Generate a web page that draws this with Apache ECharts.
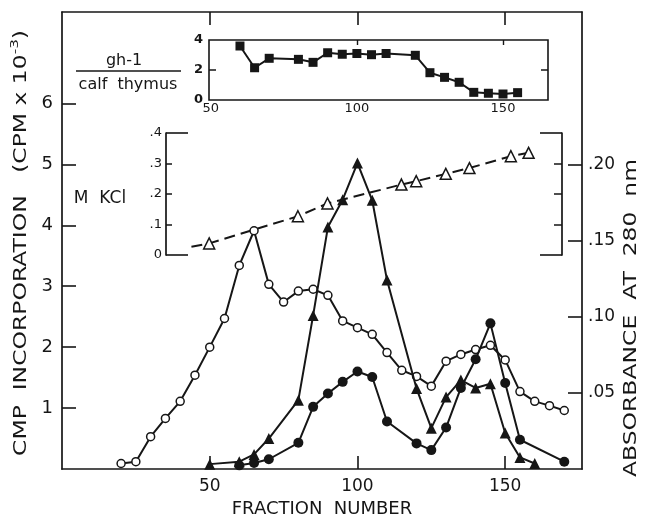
<!DOCTYPE html>
<html><head><meta charset="utf-8">
<script src="https://cdn.jsdelivr.net/npm/echarts@6/dist/echarts.min.js"></script>
<style>html,body{margin:0;padding:0;background:#fff}#c{width:649px;height:523px}</style>
</head><body><div id="c"></div><script>
// ---- data ----
const openFrac = [20,25,30,35,40,45,50,55,60,65,70,75,80,85,90,95,100,105,110,115,120,125,130,135,140,145,150,155,160,165,170];
const openVals = [0.09,0.12,0.53,0.83,1.11,1.54,2.0,2.47,3.34,3.91,3.03,2.74,2.92,2.95,2.85,2.43,2.32,2.21,1.91,1.62,1.52,1.36,1.77,1.88,1.96,2.03,1.79,1.27,1.11,1.04,0.96];
const triFrac = [50,60,65,70,80,85,90,95,100,105,110,120,125,130,135,140,145,150,155,160];
const triVals = [0.08,0.12,0.24,0.50,1.13,2.52,3.97,4.42,5.02,4.41,3.10,1.32,0.67,1.18,1.46,1.33,1.40,0.59,0.19,0.09];
const dotFrac = [60,65,70,80,85,90,95,100,105,110,120,125,130,135,140,145,150,155,170];
const dotVals = [0.06,0.10,0.16,0.43,1.02,1.24,1.43,1.60,1.51,0.78,0.42,0.31,0.68,1.33,1.80,2.39,1.41,0.48,0.12];
const kclFrac = [44,50,80,90,115,120,130,138,152,158];
const kclVals = [0.027,0.038,0.127,0.169,0.231,0.242,0.266,0.285,0.324,0.335];
const ratioFrac = [60,65,70,80,85,90,95,100,105,110,120,125,130,135,140,145,150,155];
const ratioVals = [3.6,2.15,2.78,2.71,2.51,3.15,3.05,3.1,3.02,3.1,2.98,1.82,1.51,1.18,0.51,0.45,0.40,0.49];
const xTicks = [50,100,150];
const cpmTicks = [1,2,3,4,5,6];
const absTicks = [0.05,0.10,0.15,0.20];
const kclTicks = [0.1,0.2,0.3];
const kclLabelVals = [0,0.1,0.2,0.3,0.4];
const ratioLabelVals = [0,2,4];

const ink = '#161616';
const F = 'DejaVu Sans';
const zip = (a,b) => a.map((v,i)=>[v,b[i]]);
const line = {onZero:false,lineStyle:{color:ink,width:1.7}};
const noLine = {show:false,onZero:false};
const chart = echarts.init(document.getElementById('c'), null, {renderer:'canvas'});

const kclData = zip(kclFrac,kclVals).map((p,i)=> i===0 ? {value:p, symbol:'none'} : p);

chart.setOption({
  animation:false,
  backgroundColor:'#fff',
  textStyle:{fontFamily:F,color:ink},
  grid:[
    {left:62,right:67,top:12,bottom:54},
    {left:209,right:101,top:40,bottom:423,show:true,borderColor:ink,borderWidth:1.6,backgroundColor:'#fff'},
    {left:166,right:87,top:133,bottom:268}
  ],
  xAxis:[
    {gridIndex:0,type:'value',position:'bottom',min:0,max:176,splitLine:{show:false},axisLine:line,
     axisTick:{inside:true,length:13,customValues:xTicks,lineStyle:{color:ink,width:1.6}},
     axisLabel:{customValues:xTicks,fontSize:17,color:ink,margin:9,fontFamily:F},
     name:'FRACTION  NUMBER',nameLocation:'middle',nameGap:31,
     nameTextStyle:{fontSize:18,color:ink,fontFamily:F}},
    {gridIndex:0,type:'value',position:'top',min:0,max:176,splitLine:{show:false},axisLine:line,
     axisTick:{inside:true,length:13,customValues:xTicks,lineStyle:{color:ink,width:1.6}},
     axisLabel:{show:false}},
    {gridIndex:1,type:'value',position:'bottom',min:49.4,max:165.4,splitLine:{show:false},axisLine:noLine,
     axisTick:{show:false},
     axisLabel:{customValues:xTicks,fontSize:13,color:ink,margin:2,fontFamily:F}},
    {gridIndex:1,type:'value',position:'top',min:49.4,max:165.4,splitLine:{show:false},axisLine:noLine,
     axisTick:{inside:true,length:5,customValues:[100,150],lineStyle:{color:ink,width:1.4}},
     axisLabel:{show:false}},
    {gridIndex:2,type:'value',min:35.4,max:169.3,show:false,axisLine:{onZero:false}}
  ],
  yAxis:[
    {gridIndex:0,type:'value',position:'left',min:0,max:7.5,splitLine:{show:false},axisLine:line,
     axisTick:{inside:true,length:14,customValues:cpmTicks,lineStyle:{color:ink,width:1.6}},
     axisLabel:{customValues:cpmTicks,fontSize:18,color:ink,margin:9,fontFamily:F}},
    {gridIndex:0,type:'value',position:'right',min:0,max:0.3,splitLine:{show:false},axisLine:line,
     axisTick:{inside:true,length:14,customValues:absTicks,lineStyle:{color:ink,width:1.6}},
     axisLabel:{customValues:absTicks,fontSize:17,color:ink,margin:6,fontFamily:F,
       formatter:v=>'.'+String(Math.round(v*100)).padStart(2,'0')}},
    {gridIndex:1,type:'value',position:'left',min:0,max:4,splitLine:{show:false},axisLine:noLine,
     axisTick:{inside:true,length:7,customValues:[2],lineStyle:{color:ink,width:1.5}},
     axisLabel:{customValues:ratioLabelVals,fontSize:13,color:ink,margin:6,fontFamily:F,fontWeight:'bold'}},
    {gridIndex:1,type:'value',position:'right',min:0,max:4,splitLine:{show:false},axisLine:noLine,
     axisTick:{inside:true,length:7,customValues:[2],lineStyle:{color:ink,width:1.5}},
     axisLabel:{show:false}},
    {gridIndex:2,type:'value',position:'left',min:0,max:0.4,splitLine:{show:false},axisLine:line,
     axisTick:{inside:true,length:6,customValues:kclTicks,lineStyle:{color:ink,width:1.5}},
     axisLabel:{customValues:kclLabelVals,fontSize:13,color:ink,margin:4,fontFamily:F,
       formatter:v=> v===0 ? '0' : '.'+Math.round(v*10)}},
    {gridIndex:2,type:'value',position:'left',min:0,max:0.4,splitLine:{show:false},axisLine:noLine,
     axisTick:{inside:true,length:22,customValues:[0,0.4],lineStyle:{color:ink,width:1.6}},
     axisLabel:{show:false}},
    {gridIndex:2,type:'value',position:'right',min:0,max:0.4,splitLine:{show:false},axisLine:line,
     axisTick:{inside:true,length:8,customValues:kclTicks,lineStyle:{color:ink,width:1.5}},
     axisLabel:{show:false}},
    {gridIndex:2,type:'value',position:'right',min:0,max:0.4,splitLine:{show:false},axisLine:noLine,
     axisTick:{inside:true,length:22,customValues:[0,0.4],lineStyle:{color:ink,width:1.6}},
     axisLabel:{show:false}}
  ],
  graphic:[
    {type:'text',x:20,y:243,rotation:Math.PI/2,scaleX:1.38,
     style:{text:'{a|CMP  INCORPORATION   (CPM x 10}{s|-3}{a|)}',align:'center',verticalAlign:'middle',
       rich:{a:{font:'17px "DejaVu Sans"',fill:ink,verticalAlign:'bottom'},s:{font:'11px "DejaVu Sans"',fill:ink,verticalAlign:'top',padding:[0,0,9,0]}}}},
    {type:'text',x:632,y:318,rotation:Math.PI/2,scaleX:1.38,style:{text:'ABSORBANCE  AT  280  nm',font:'17px "DejaVu Sans"',fill:ink,align:'center',verticalAlign:'middle'}},
    {type:'text',x:124,y:61,style:{text:'gh-1',font:'16px "DejaVu Sans"',fill:ink,align:'center',verticalAlign:'middle'}},
    {type:'line',shape:{x1:76,y1:71,x2:181,y2:71},style:{stroke:ink,lineWidth:1.5}},
    {type:'text',x:128,y:85,style:{text:'calf  thymus',font:'16px "DejaVu Sans"',fill:ink,align:'center',verticalAlign:'middle'}},
    {type:'text',x:100,y:199,style:{text:'M  KCl',font:'17px "DejaVu Sans"',fill:ink,align:'center',verticalAlign:'middle'}}
  ],
  series:[
    {name:'A280',type:'line',xAxisIndex:0,yAxisIndex:0,data:zip(openFrac,openVals),
     symbol:'circle',symbolSize:8,itemStyle:{color:'#fff',borderColor:ink,borderWidth:1.5},
     lineStyle:{color:ink,width:2},z:3},
    {name:'calf thymus',type:'line',xAxisIndex:0,yAxisIndex:0,data:zip(triFrac,triVals),
     symbol:'triangle',symbolSize:11,itemStyle:{color:ink},lineStyle:{color:ink,width:2},z:4},
    {name:'gh-1',type:'line',xAxisIndex:0,yAxisIndex:0,data:zip(dotFrac,dotVals),
     symbol:'circle',symbolSize:10,itemStyle:{color:ink},lineStyle:{color:ink,width:2},z:5},
    {name:'M KCl',type:'line',xAxisIndex:4,yAxisIndex:4,data:kclData,
     symbol:'triangle',symbolSize:11,itemStyle:{color:'#fff',borderColor:ink,borderWidth:1.5},
     lineStyle:{color:ink,width:2,type:[11,6]},z:2},
    {name:'gh-1 / calf thymus',type:'line',xAxisIndex:2,yAxisIndex:2,data:zip(ratioFrac,ratioVals),
     symbol:'rect',symbolSize:9,itemStyle:{color:ink},lineStyle:{color:ink,width:2},z:6}
  ]
});
</script></body></html>
